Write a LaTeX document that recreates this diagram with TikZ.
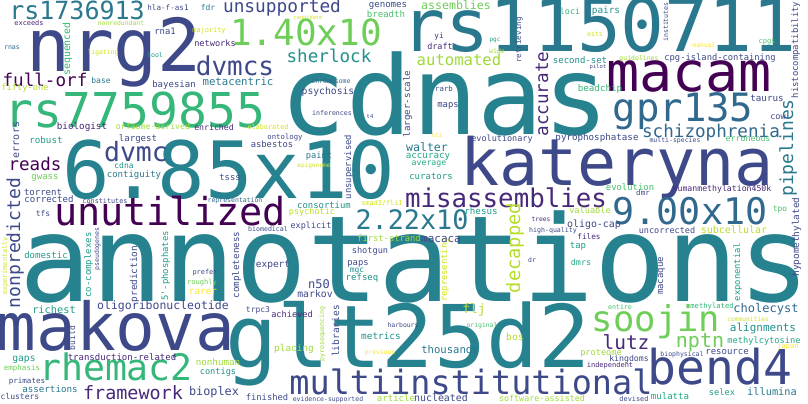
\documentclass[tikz,border=0pt]{standalone}
\usepackage{fontspec}
\newfontfamily\wcfont{DejaVu Sans Mono}
\usepackage{xcolor}
\usepackage{tikz}
\definecolor{vone}{HTML}{440154}
\definecolor{vtwo}{HTML}{482878}
\definecolor{vthree}{HTML}{3E4989}
\definecolor{vfour}{HTML}{31688E}
\definecolor{vtl}{HTML}{2A788E}
\definecolor{vfive}{HTML}{26828E}
\definecolor{vfiveb}{HTML}{21918C}
\definecolor{vsix}{HTML}{1F9E89}
\definecolor{vsixb}{HTML}{22A884}
\definecolor{vseven}{HTML}{35B779}
\definecolor{vsevenb}{HTML}{4AC16D}
\definecolor{veight}{HTML}{6ECE58}
\definecolor{vlg}{HTML}{A0DA39}
\definecolor{vnine}{HTML}{B5DE2B}
\definecolor{vyg}{HTML}{D2E21B}
\definecolor{vten}{HTML}{FDE725}

\begin{document}
\begin{tikzpicture}[x=1pt,y=-1pt,
	wd/.style={anchor=base,inner sep=0pt,font=\wcfont\fontsize{#1pt}{#1pt}\selectfont},
	up/.style={rotate=90}]
	\fill[white] (0,0) rectangle (808,404);
	\useasboundingbox (0,0) rectangle (808,404);
	% largest words
	\node[wd=119.5,text=vfive] (annotations) at (415,301) {annotations};
	\node[wd=109,text=vfive] (cdnas) at (445,134) {cdnas};
	\node[wd=79,text=vfive] (w685x10) at (229,198) {6.85x10};
	\node[wd=86.5,text=vfive] (glt25d2) at (408,367) {glt25d2};
	\node[wd=73,text=vtl] (rs1150711) at (599,52) {rs1150711};
	\node[wd=73,text=vthree] (nrg2) at (114,71) {nrg2};
	\node[wd=65,text=vthree] (kateryna) at (617,185) {kateryna};
	\node[wd=66,text=vthree] (makova) at (116,350) {makova};
	\node[wd=55,text=vone] (macam) at (689,92) {macam};
	\node[wd=48,text=vseven] (rs7759855) at (135,127) {rs7759855};
	\node[wd=48,text=vthree] (bend4) at (720,384) {bend4};
	\node[wd=39,text=vfour] (gpr135) at (683,121) {gpr135};
	\node[wd=38.5,text=vone] (unutilized) at (170,225) {unutilized};
	\node[wd=36.7,text=vfour] (w900x10) at (690,224) {9.00x10};
	\node[wd=36.5,text=vseven] (rhemac2) at (116,380) {rhemac2};
	\node[wd=36,text=veight] (w140x10) at (306,46) {1.40x10};
	\node[wd=35.5,text=veight] (soojin) at (656,331) {soojin};
	\node[wd=33.5,text=vthree] (multiinstitutional) at (471,394) {multiinstitutional};
	\node[wd=26.8,text=vtl] (w222x10) at (412,229) {2.22x10};
	\node[wd=26.5,text=vthree] (dvmc) at (136,161) {dvmc};
	\node[wd=26,text=vthree] (dvmcs) at (235,75) {dvmcs};
	\node[wd=25.8,text=vtwo] (misassemblies) at (506,207) {misassemblies};
	\node[wd=25,text=vtl] (rs1736913) at (77,20) {rs1736913};
	\node[wd=20,text=veight] (nptn) at (700,347) {nptn};
	\node[wd=19.5,text=vtwo] (lutz) at (626,349) {lutz};
	\node[wd=18.4,text=vtwo] (framework) at (133,399) {framework};
	\node[wd=17.8,text=vthree] (unsupported) at (282,13) {unsupported};
	\node[wd=17.6,text=vone] (full-orf) at (45,86) {full-orf};
	\node[wd=17.6,text=vfiveb] (sherlock) at (329,63) {sherlock};
	\node[wd=17.6,text=vfour] (schizophrenia) at (711,137) {schizophrenia};
	\node[wd=17.5,text=vone] (reads) at (35,170) {reads};
	\node[wd=15.6,text=vlg] (automated) at (459,66) {automated};
	% vertical words
	\node[wd=18,up,text=vthree] (nonpredicted) at (20,243) {nonpredicted};
	\node[wd=18.7,up,text=vnine] (decapped) at (520,248) {decapped};
	\node[wd=18,up,text=vtl] (pipelines) at (793,148) {pipelines};
	\node[wd=17.6,up,text=vtwo] (accurate) at (548,94) {accurate};
	\node[wd=10,up,text=vthree] (errors) at (19,140) {errors};
	\node[wd=9.9,up,text=vseven] (sequenced) at (70,49) {sequenced};
	\node[wd=7.5,up,text=vthree] (retrieving) at (521,40) {retrieving};
	\node[wd=9.2,up,text=vthree] (larger-scale) at (410,104) {larger-scale};
	\node[wd=6.6,up,text=vthree] (institutes) at (668,22) {institutes};
	\node[wd=8.9,up,text=vthree] (histocompatibility) at (798,50) {histocompatibility};
	\node[wd=8.9,up,text=vthree] (unsupervised) at (351,167) {unsupervised};
	\node[wd=9.4,up,text=vthree] (hypomethylated) at (799,237) {hypomethylated};
	\node[wd=8.8,up,text=vyg] (representing) at (447,270) {representing};
	\node[wd=9.5,up,text=vthree] (libraries) at (339,331) {libraries};
	\node[wd=6.6,up,text=vlg] (pyrosequencing) at (324,334) {pyrosequencing};
	\node[wd=8.8,up,text=vsix] (exponential) at (740,272) {exponential};
	\node[wd=9,up,text=vthree] (macaque) at (663,276) {macaque};
	\node[wd=6.8,up,text=vyg] (experimentally) at (7,266) {experimentally};
	\node[wd=9,up,text=vsix] (co-complexes) at (91,265) {co-complexes};
	\node[wd=6.5,up,text=vthree] (pseudogenes) at (99,249) {pseudogenes};
	\node[wd=9.4,up,text=vthree] (prediction) at (137,274) {prediction};
	\node[wd=8.9,up,text=vsix] (phosphates) at (168,266) {5'-phosphates};
	\node[wd=9.2,up,text=vthree] (completeness) at (239,265) {completeness};
	\node[wd=8,up,text=vthree] (build) at (75,338) {build};
	% small words, top left
	\node[wd=7.6,text=vthree] (hla-f-as1) at (168,10.5) {hla-f-as1};
	\node[wd=7.9,text=vtl] (fdr) at (208,10.5) {fdr};
	\node[wd=10.7,text=vtl] (metacentric) at (238,85) {metacentric};
	\node[wd=6.9,text=vtwo] (exceeds) at (29,26) {exceeds};
	\node[wd=6.4,text=vlg] (nonredundant) at (121,26) {nonredundant};
	\node[wd=6.9,text=vyg] (majority) at (209,33) {majority};
	\node[wd=8.9,text=vthree] (rna1) at (165,35) {rna1};
	\node[wd=8.6,text=vtwo] (networks) at (215,46.5) {networks};
	\node[wd=6.6,text=vfour] (rnas) at (12,50) {rnas};
	\node[wd=6.4,text=vyg] (ligating) at (103,55) {ligating};
	\node[wd=6.6,text=vsix] (tool) at (155,58) {tool};
	\node[wd=8,text=vtl] (base) at (101,83) {base};
	\node[wd=9,text=vthree] (bayesian) at (174,87) {bayesian};
	\node[wd=8.7,text=vnine] (fifty-one) at (25,90) {fifty-one};
	\node[wd=9.3,text=vtwo] (biologist) at (82,129) {biologist};
	\node[wd=8.2,text=vlg] (orfeome-derived) at (153,129) {orfeome-derived};
	\node[wd=8.2,text=vtwo] (enriched) at (214,130) {enriched};
	\node[wd=6.8,text=vyg] (elaborated) at (268,129) {elaborated};
	\node[wd=9.2,text=vsix] (robust) at (46,143) {robust};
	\node[wd=9.1,text=vthree] (largest) at (138,141) {largest};
	% small words, top middle
	\node[wd=9.1,text=vthree] (genomes) at (388,7.5) {genomes};
	\node[wd=11.6,text=veight] (assemblies) at (456,10) {assemblies};
	\node[wd=5.3,text=vyg] (candidate) at (308,19.5) {candidate};
	\node[wd=9.1,text=vsevenb] (breadth) at (386,18) {breadth};
	\node[wd=7.6,text=vtwo] (yi) at (439,38) {yi};
	\node[wd=6,text=vsixb] (pgc) at (495,42) {pgc};
	\node[wd=8.4,text=vtwo] (draft) at (440,49) {draft};
	\node[wd=6.6,text=vlg] (wide) at (497,53) {wide};
	\node[wd=6.5,text=vfour] (chromosome) at (331,83) {chromosome};
	\node[wd=7.4,text=vthree] (rarb) at (444,91.5) {rarb};
	\node[wd=9.7,text=vthree] (psychosis) at (328,94) {psychosis};
	\node[wd=8.9,text=vthree] (maps) at (448,107) {maps};
	\node[wd=6.6,text=vthree] (inferences) at (332,115) {inferences};
	\node[wd=5.5,text=vthree] (t4) at (370,118.5) {t4};
	\node[wd=6.5,text=vten] (scz) at (437,137) {scz};
	\node[wd=8.5,text=vthree] (evolutionary) at (502,141) {evolutionary};
	% small words, top right
	\node[wd=8.4,text=vseven] (loci) at (570,15) {loci};
	\node[wd=9.4,text=vfiveb] (pairs) at (606,14) {pairs};
	\node[wd=6.6,text=vyg] (ests) at (595,36.5) {ests};
	\node[wd=6.4,text=vten] (manual) at (704,48) {manual};
	\node[wd=7,text=vsevenb] (cpgs) at (767,44) {cpgs};
	\node[wd=9,text=vfiveb] (second-set) at (580,63.5) {second-set};
	\node[wd=8.8,text=vthree] (cpg-island-containing) at (720,60) {cpg-island-containing};
	\node[wd=6.5,text=vlg] (guidelines) at (639,61) {guidelines};
	\node[wd=5.5,text=vthree] (pilot) at (598,68) {pilot};
	\node[wd=9.2,text=vseven] (beadchip) at (600,91) {beadchip};
	\node[wd=9.2,text=vthree] (taurus) at (767,101) {taurus};
	\node[wd=8.5,text=vthree] (cow) at (778,119) {cow};
	\node[wd=9.2,text=vthree] (pyrophosphatase) at (597,140) {pyrophosphatase};
	\node[wd=6.5,text=vthree] (multi-species) at (675,142) {multi-species};
	\node[wd=8.3,text=vsevenb] (erroneous) at (748,141) {erroneous};
	% small words, middle left
	\node[wd=9,text=veight] (gwass) at (45,179) {gwass};
	\node[wd=9,text=vthree] (torrent) at (43,195) {torrent};
	\node[wd=9.1,text=vthree] (corrected) at (49,202) {corrected};
	\node[wd=8,text=vthree] (tfs) at (43,216) {tfs};
	\node[wd=9,text=vsix] (domestic) at (46,258) {domestic};
	\node[wd=8,text=vfiveb] (cdna) at (124,168) {cdna};
	\node[wd=9,text=vtl] (contiguity) at (134,177) {contiguity};
	\node[wd=6.8,text=vthree] (constitutes) at (105,203) {constitutes};
	\node[wd=8.8,text=vthree] (tsss) at (230,180) {tsss};
	\node[wd=6.5,text=vfour] (representation) at (235,202) {representation};
	\node[wd=6.6,text=vthree] (biomedical) at (268,231) {biomedical};
	\node[wd=6.9,text=vthree] (prefer) at (205,274) {prefer};
	\node[wd=7.1,text=veight] (roughly) at (202,284) {roughly};
	\node[wd=9.4,text=vten] (rarer) at (203,294) {rarer};
	% small words, middle
	\node[wd=7.3,text=vthree] (ontology) at (285,139) {ontology};
	\node[wd=8.8,text=vthree] (asbestos) at (272,147) {asbestos};
	\node[wd=8.7,text=vtl] (paint) at (319,158) {paint};
	\node[wd=6.1,text=vyg] (epigenome) at (314,167) {epigenome};
	\node[wd=8.9,text=vfiveb] (consortium) at (324,208) {consortium};
	\node[wd=8.5,text=vnine] (psychotic) at (312,214) {psychotic};
	\node[wd=8.5,text=vthree] (explicit) at (311,228) {explicit};
	\node[wd=11.6,text=vtl] (walter) at (427,151) {walter};
	\node[wd=9.2,text=vsixb] (accuracy) at (428,158) {accuracy};
	\node[wd=8.2,text=vsixb] (average) at (429,165) {average};
	\node[wd=9,text=vsix] (curators) at (431,179) {curators};
	\node[wd=6.8,text=vyg] (smad3fli1) at (382,205) {smad3/fli1};
	\node[wd=9.2,text=vsix] (rhesus) at (481,214) {rhesus};
	\node[wd=8.8,text=vlg] (first-strand) at (389,241) {first-strand};
	\node[wd=11,text=vthree] (macaca) at (441,242) {macaca};
	\node[wd=8.6,text=vthree] (shotgun) at (370,253) {shotgun};
	\node[wd=8.8,text=vthree] (paps) at (358,265) {paps};
	\node[wd=9.5,text=vthree] (expert) at (273,267) {expert};
	\node[wd=6.3,text=vtwo] (trees) at (541,221) {trees};
	\node[wd=6.6,text=vthree] (high-quality) at (553,232) {high-quality};
	\node[wd=6.5,text=vthree] (dr) at (532,262) {dr};
	% small words, middle right
	\node[wd=8.9,text=vsevenb] (evolution) at (630,190) {evolution};
	\node[wd=7.5,text=vthree] (dmr) at (643,195.5) {dmr};
	\node[wd=8.2,text=vtwo] (humanmethylation450k) at (722,191) {humanmethylation450k};
	\node[wd=8.6,text=vlg] (valuable) at (590,213) {valuable};
	\node[wd=7.9,text=vsevenb] (tpo) at (780,211) {tpo};
	\node[wd=9.9,text=vthree] (oligo-cap) at (594,227) {oligo-cap};
	\node[wd=7.7,text=vtwo] (files) at (589,239) {files};
	\node[wd=8.5,text=vthree] (uncorrected) at (667,233) {uncorrected};
	\node[wd=10,text=vnine] (subcellular) at (734,233) {subcellular};
	\node[wd=9,text=vsix] (tap) at (578,248) {tap};
	\node[wd=8.4,text=vsixb] (dmrs) at (581,265) {dmrs};
	% small words, bottom left
	\node[wd=11.5,text=vthree] (oligoribonucleotide) at (163,309) {oligoribonucleotide};
	\node[wd=8,text=vthree] (trpc3) at (258,312) {trpc3};
	\node[wd=10.3,text=vsix] (richest) at (54,313) {richest};
	\node[wd=9,text=vtwo] (transduction-related) at (122,360) {transduction-related};
	\node[wd=9.7,text=vsix] (gaps) at (24,361) {gaps};
	\node[wd=7.5,text=veight] (emphasis) at (22,370) {emphasis};
	\node[wd=7.5,text=vthree] (primates) at (27,383) {primates};
	\node[wd=9.2,text=vlg] (nonhuman) at (218,365) {nonhuman};
	\node[wd=8.6,text=vfiveb] (contigs) at (218,374) {contigs};
	\node[wd=11.8,text=vthree] (bioplex) at (214,395) {bioplex};
	\node[wd=9.2,text=vtl] (assertions) at (50,392) {assertions};
	\node[wd=8,text=vthree] (clusters) at (20,399) {clusters};
	\node[wd=8.8,text=vthree] (finished) at (267,400) {finished};
	% small words, bottom middle
	\node[wd=8,text=vfiveb] (mgc) at (357,272) {mgc};
	\node[wd=9,text=vfiveb] (refseq) at (362,280) {refseq};
	\node[wd=12,text=vthree] (n50) at (319,288) {n50};
	\node[wd=9.8,text=vthree] (markov) at (315,297) {markov};
	\node[wd=13,text=vnine] (flj) at (474,313) {flj};
	\node[wd=6.4,text=vsevenb] (original) at (482,327) {original};
	\node[wd=9.7,text=vnine] (bos) at (515,340) {bos};
	\node[wd=9.4,text=vfiveb] (metrics) at (381,339) {metrics};
	\node[wd=6.4,text=vthree] (harbours) at (403,327) {harbours};
	\node[wd=8.6,text=vtwo] (achieved) at (292,317) {achieved};
	\node[wd=9.4,text=vlg] (placing) at (294,351) {placing};
	\node[wd=6.4,text=vten] (previous) at (380,354) {previous};
	\node[wd=10.6,text=vtl] (thousands) at (450,353) {thousands};
	\node[wd=6.5,text=vthree] (evidence-supported) at (328,401) {evidence-supported};
	\node[wd=9.1,text=vlg] (article) at (396,401) {article};
	\node[wd=9.9,text=vthree] (nucleated) at (441,401) {nucleated};
	\node[wd=8.4,text=vlg] (software-assisted) at (542,401) {software-assisted};
	% small words, bottom right
	\node[wd=12,text=vfour] (cholecyst) at (766,312) {cholecyst};
	\node[wd=6.6,text=vsevenb] (entire) at (620,309) {entire};
	\node[wd=7.2,text=vseven] (methylated) at (712,308) {methylated};
	\node[wd=6.2,text=vyg] (communities) at (748,321) {communities};
	\node[wd=11,text=vfiveb] (alignments) at (763,331) {alignments};
	\node[wd=8.7,text=vsixb] (methylcytosine) at (764,343) {methylcytosine};
	\node[wd=7,text=vten] (japan) at (788,348) {japan};
	\node[wd=8.6,text=vlg] (proteome) at (601,355) {proteome};
	\node[wd=8.2,text=vthree] (kingdoms) at (629,361) {kingdoms};
	\node[wd=6.5,text=vthree] (biophysical) at (682,356) {biophysical};
	\node[wd=9,text=vthree] (resource) at (727,354) {resource};
	\node[wd=7,text=vtwo] (independent) at (610,367) {independent};
	\node[wd=10.3,text=vtl] (illumina) at (772,395) {illumina};
	\node[wd=9.1,text=vsixb] (mulatta) at (670,399) {mulatta};
	\node[wd=8.7,text=vsix] (selex) at (722,395) {selex};
	\node[wd=6.9,text=vthree] (devised) at (634,401) {devised};
\end{tikzpicture}
\end{document}
